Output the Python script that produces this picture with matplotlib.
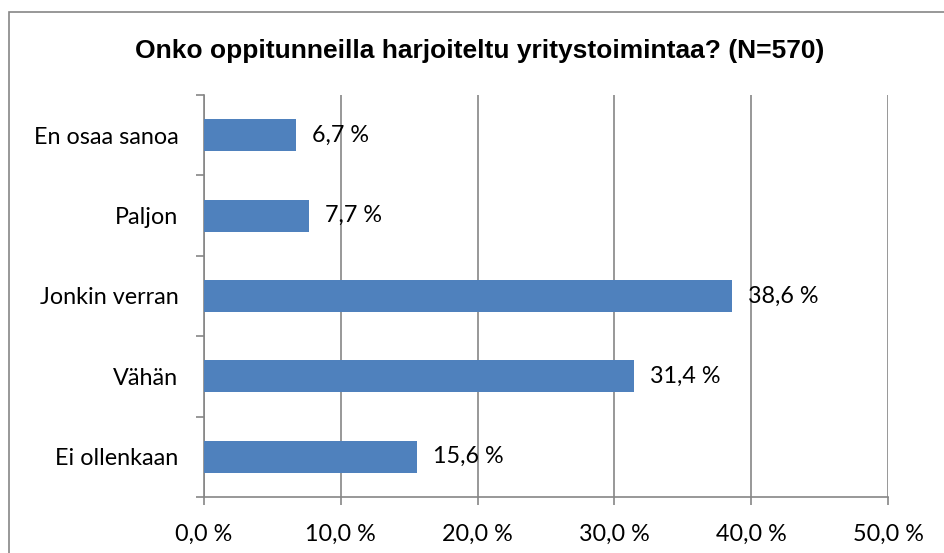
import matplotlib
matplotlib.use("Agg")
import matplotlib.pyplot as plt
from matplotlib.patches import Rectangle
import numpy as np

# data, bottom to top as drawn
categories = ["Ei ollenkaan", "Vähän", "Jonkin verran", "Paljon", "En osaa sanoa"]
values = [15.6, 31.4, 38.6, 7.7, 6.7]
xticks = [0, 10, 20, 30, 40, 50]
title = "Onko oppitunneilla harjoiteltu yritystoimintaa? (N=570)"

BAR = "#4F81BD"
GRID = "#868686"
FS = 16.8

W, H = 945, 553
fig = plt.figure(figsize=(W / 100, H / 100), dpi=100)

# outer chart border (runs past right and bottom edge like the source crop)
fig.patches.append(Rectangle((9.5 / W, -0.1), 1.2, 1 - 11.5 / H + 0.1,
                             transform=fig.transFigure, fill=False,
                             edgecolor=GRID, linewidth=1.2))

ax = fig.add_axes([204 / W, 1 - 497 / H, (888 - 204) / W, (497 - 95) / H])

y = np.arange(len(categories))
ax.barh(y, values, height=0.4, color=BAR, zorder=3)

for yi, v in zip(y, values):
    ax.annotate(("%.1f %%" % v).replace(".", ","), (v, yi), xytext=(16, 0),
                textcoords="offset pixels", va="center", ha="left",
                fontsize=FS, family="Lato", color="black", zorder=4)

ax.set_xlim(0, 50)
ax.set_ylim(-0.5, len(categories) - 0.5)

ax.set_xticks(xticks)
ax.set_xticklabels([("%.1f %%" % t).replace(".", ",") for t in xticks],
                   fontsize=FS, family="Lato")
ax.tick_params(axis="x", direction="out", length=6, color=GRID, width=1.2, pad=13)

ax.set_yticks(y)
ax.set_yticklabels(categories, fontsize=FS, family="Lato")
ax.set_yticks(np.arange(-0.5, len(categories)), minor=True)
ax.tick_params(axis="y", which="major", length=0, pad=18.5)
ax.tick_params(axis="y", which="minor", direction="out", length=6, color=GRID, width=1.2)

ax.grid(axis="x", color=GRID, linewidth=1.2, zorder=0)
for s in ["top", "right"]:
    ax.spines[s].set_visible(False)
for s in ["left", "bottom"]:
    ax.spines[s].set_color(GRID)
    ax.spines[s].set_linewidth(1.2)

fig.text(480 / W, 1 - 51 / H, title, ha="center", va="center",
         fontsize=19, fontweight="bold", family="Liberation Sans")

fig.savefig("out.png", dpi=100)
